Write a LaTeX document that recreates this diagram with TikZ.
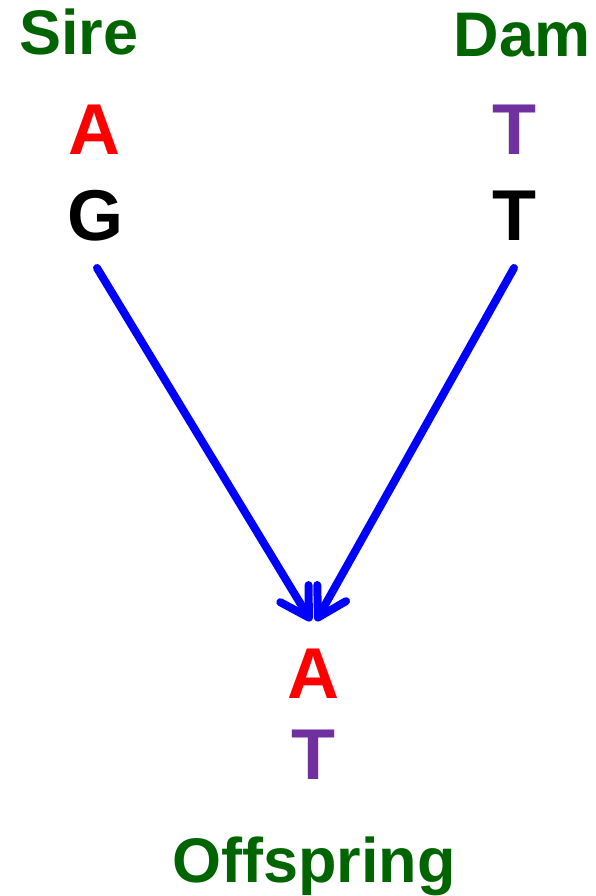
\documentclass[tikz,border=0pt]{standalone}
\usepackage{fontspec}
\setmainfont{Liberation Sans}
\usetikzlibrary{arrows.meta}
\definecolor{lblgreen}{RGB}{0,100,0}
\definecolor{alred}{RGB}{255,0,0}
\definecolor{alpurple}{RGB}{112,48,160}
\definecolor{arrblue}{RGB}{0,0,255}
\tikzset{
  lbl/.style={inner sep=0pt, anchor=base, text=lblgreen, font=\bfseries\fontsize{63}{63}\selectfont},
  allele/.style={inner sep=0pt, anchor=base, font=\bfseries\fontsize{72}{72}\selectfont},
  inherit/.style={draw=arrblue, line width=8pt, line cap=round,
    -{Straight Barb[length=28pt, width=33pt, round]}}
}
\begin{document}
\begin{tikzpicture}[x=1pt, y=-1pt]
\useasboundingbox (0,0) rectangle (596,896);
\node[lbl] (sire) at (79,55) {Sire};
\node[lbl] (dam) at (522,57) {Dam};
\node[allele, text=alred] (sa) at (94,155) {A};
\node[allele, text=black] (sg) at (96,240) {G};
\node[allele, text=alpurple] (dt1) at (514,155) {T};
\node[allele, text=black] (dt2) at (514,240) {T};
\node[allele, text=alred] (oa) at (313,698) {A};
\node[allele, text=alpurple] (ot) at (313,779) {T};
\node[lbl] (off) at (314,882) {Offspring};
\coordinate (ls) at (97,268);
\coordinate (rs) at (514,268);
\coordinate (lt) at (311,621);
\coordinate (rt) at (316,621);
\draw[inherit] (ls) -- (lt);
\draw[inherit] (rs) -- (rt);
\end{tikzpicture}
\end{document}
